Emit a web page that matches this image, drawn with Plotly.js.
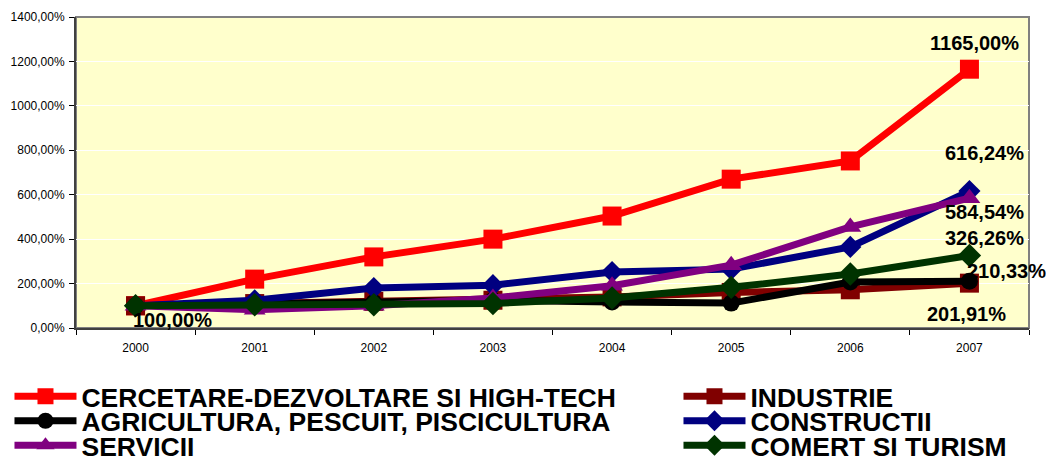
<!DOCTYPE html>
<html><head><meta charset="utf-8">
<script src="https://cdn.plot.ly/plotly-3.0.1.min.js"></script>
<style>html,body{margin:0;padding:0;background:#fff}#chart{width:1046px;height:457px}#err{position:absolute;left:100px;top:20px;font:12px monospace;color:#c00;white-space:pre}</style>
</head><body><div id="chart"></div><div id="err"></div>
<script>
window.onerror = function(m){ document.getElementById('err').textContent += m + '\n'; };
const years = ['2000','2001','2002','2003','2004','2005','2006','2007'];
const seriesNames = ['CERCETARE-DEZVOLTARE SI HIGH-TECH','INDUSTRIE','AGRICULTURA, PESCUIT, PISCICULTURA','CONSTRUCTII','SERVICII','COMERT SI TURISM'];
const cercetare   = [100, 220, 320, 400, 504, 670, 752, 1165.00];
const industrie   = [100, 110, 120, 125, 140, 160, 172, 201.91];
const agricultura = [100, 110, 115, 125, 117, 112, 207, 210.33];
const constructii = [100, 125, 180, 193, 252, 265, 365, 616.24];
const servicii    = [100, 82, 100, 135, 190, 283, 455, 584.54];
const comert      = [100, 105, 105, 110, 135, 183, 243, 326.26];

const seriesValues = [cercetare, industrie, agricultura, constructii, servicii, comert];
const colors = ['#FF0000','#800000','#000000','#000080','#800080','#003300'];
const symbols = ['square','square','circle','diamond','triangle-up','diamond'];
const sizes = [19,19,17,17,19,18];
// legend grid: [column, row]
const legendCell = [[0,0],[1,0],[0,1],[1,1],[0,2],[1,2]];
const legendIds = ['legend','legend2','legend3','legend4','legend5','legend6'];

const traces = seriesNames.map((n,i)=>({
  type:'scatter', mode:'lines+markers', name:n, x:years, y:seriesValues[i],
  line:{color:colors[i], width:7}, marker:{color:colors[i], symbol:symbols[i], size:sizes[i]},
  legend: legendIds[i], cliponaxis:false
}));

function fmt(v){ return v.toFixed(2).replace('.', ',') + '%'; }
// label placement (style): [series index, point index, xshift, yshift]
const labelPlacement = [[0,7,5,26],[3,7,15,38],[4,7,15,-14],[5,7,15,18],[2,7,37,10],[1,7,-3,-31],[0,0,37,-14]];
const annotations = labelPlacement.map(([s,p,dx,dy])=>({
  xref:'x', yref:'y', x:p, y:seriesValues[s][p], text:'<b>'+fmt(seriesValues[s][p])+'</b>',
  showarrow:false, xshift:dx, yshift:dy,
  font:{family:'Liberation Sans, Arial, sans-serif', size:20, color:'#000'}
}));

const colX = [-0.0698, 0.6322];
const rowPx = [396.5, 421, 445.5];
function legendAt(col,row){
  return {orientation:'h', x:colX[col], xanchor:'left', y:(328-rowPx[row])/311, yanchor:'middle',
    itemwidth:62,
    font:{family:'Liberation Sans, Arial, sans-serif', size:26.5, color:'#000', weight:'bold'},
    bgcolor:'rgba(0,0,0,0)', borderwidth:0};
}

const layout = {
  width:1046, height:457,
  margin:{l:76, r:17, t:17, b:129, autoexpand:false},
  paper_bgcolor:'#ffffff', plot_bgcolor:'#FFFFCC',
  separators:', ',
  showlegend:true,
  xaxis:{type:'category', range:[-0.5,7.5], tickson:'boundaries', ticks:'outside', ticklen:5,
    tickcolor:'#000', showline:true, linecolor:'#404040', linewidth:2, showgrid:false, ticklabelstandoff:8,
    tickfont:{family:'Liberation Sans, Arial, sans-serif', size:12, color:'#000'}, fixedrange:true},
  yaxis:{range:[0,1400], dtick:200, tickformat:'.2f', ticksuffix:'%', ticks:'outside', ticklen:5,
    tickcolor:'#000', showline:true, linecolor:'#404040', linewidth:2, gridcolor:'#ffffff', gridwidth:1,
    zeroline:false, ticklabelstandoff:2,
    tickfont:{family:'Liberation Sans, Arial, sans-serif', size:12, color:'#000'}, fixedrange:true},
  shapes:[{type:'rect', xref:'paper', yref:'paper', x0:0, x1:1, y0:0, y1:1, line:{color:'#808080', width:2}, layer:'below'}],
  annotations:annotations
};
legendIds.forEach((id,i)=>{ layout[id] = legendAt(legendCell[i][0], legendCell[i][1]); });
Plotly.newPlot('chart', traces, layout, {displayModeBar:false, staticPlot:true}).catch(e=>{document.getElementById('err').textContent += 'P:'+e+'\n';});
</script></body></html>
